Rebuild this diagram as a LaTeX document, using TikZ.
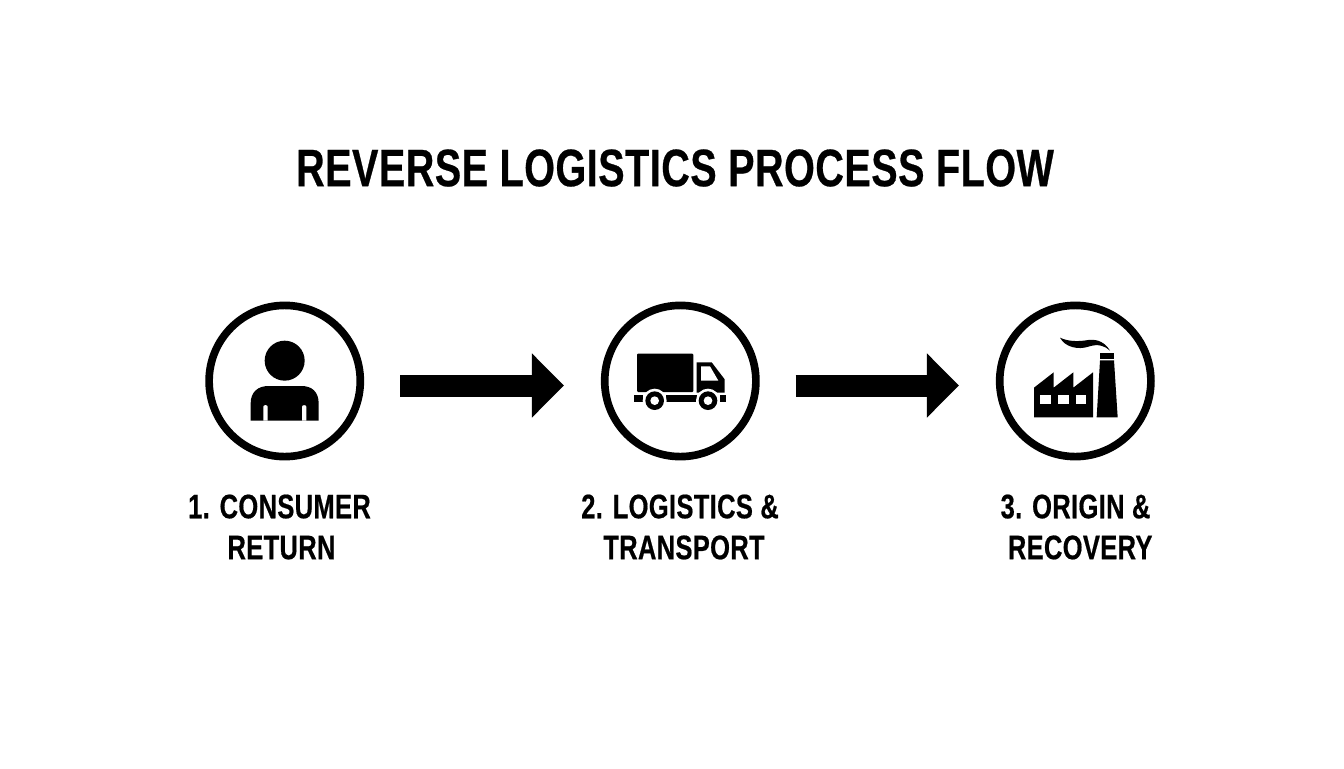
\documentclass[tikz,border=0pt]{standalone}
\usepackage{fontspec}
\setmainfont{Liberation Sans}
\usetikzlibrary{arrows.meta,calc}
\newfontfamily\condfont{Liberation Sans Bold}[FakeStretch=0.75,LetterSpace=1,FakeBold=0.5]
\tikzset{
  x=0.75pt,y=-0.75pt,
  ring/.style={circle,draw=black,line width=5.75pt,minimum size=113.4pt,inner sep=0pt,fill=white},
  flowarrow/.style={line width=16.5pt,black,-{Triangle[length=24pt,width=46.8pt]}},
  steptext/.style={font=\condfont\fontsize{25.5pt}{30.7pt}\selectfont,align=center,inner sep=0pt,text=black},
  titletext/.style={font=\condfont\fontsize{39.5pt}{44pt}\selectfont,inner sep=0pt,text=black},
  zoomed/.style={x=0.25pt,y=-0.25pt}
}
\begin{document}
\begin{tikzpicture}
\useasboundingbox (0,0) rectangle (1344,768);
\fill[white] (0,0) rectangle (1344,768);
\node[titletext] (title) at (675,168) {REVERSE LOGISTICS PROCESS FLOW};

\node[ring] (c1) at (284.7,381) {};
\node[ring] (c2) at (680.3,381) {};
\node[ring] (c3) at (1075.3,381) {};

\draw[flowarrow] ($(c1.east)+(36,4.5)$) -- ($(c2.west)+(-37,4.5)$);
\draw[flowarrow] ($(c2.east)+(36,4.5)$) -- ($(c3.west)+(-37,4.5)$);

\node[steptext] (l1) at (279.5,527) {1. CONSUMER\\\hspace*{3pt}RETURN};
\node[steptext] (l2) at (680,527) {2. LOGISTICS \&\\\hspace*{6pt}TRANSPORT};
\node[steptext] (l3) at (1075.5,527) {3. ORIGIN \&\\\hspace*{7pt}RECOVERY};

% person
\begin{scope}[shift={(190,290)},zoomed]
\fill (284,212) circle[radius=60];
\fill (182,392) -- (182,340) .. controls (182,305) and (205,288) .. (235,288)
  -- (335,288) .. controls (365,288) and (386,305) .. (386,340) -- (386,392) -- cycle;
\fill[white] (220,392) -- (220,350) .. controls (220,344) and (233,344) .. (233,350) -- (233,392) -- cycle;
\fill[white] (336,392) -- (336,350) .. controls (336,344) and (349,344) .. (349,350) -- (349,392) -- cycle;
\end{scope}

% truck
\begin{scope}[shift={(590,290)},zoomed]
\fill[rounded corners=0.75pt] (141,191) rectangle (310,306);
\fill (320,217) -- (365,217) -- (404,268) -- (404,308) -- (320,308) -- cycle;
\fill[white] (333,229) -- (360,229) -- (385,272) -- (333,272) -- cycle;
\fill (132,316) rectangle (160,337);
\fill (228,316) rectangle (322,337);
\fill (390,316) rectangle (407,337);
\foreach \wx in {194,354}{
  \fill[white] (\wx,332) circle[radius=36];
  \fill (\wx,332) circle[radius=28];
  \fill[white] (\wx,332) circle[radius=13];
}
\end{scope}

% factory
\begin{scope}[shift={(985,290)},zoomed]
\fill (147,293) -- (206,247) -- (206,293) -- (265,247) -- (265,293) -- (324,247) -- (324,382) -- (147,382) -- cycle;
\fill[white] (166,315) rectangle (198,343);
\fill[white] (220,315) rectangle (252,343);
\fill[white] (272,315) rectangle (304,343);
\fill (345,190) rectangle (387,207);
\fill (345,211) -- (387,211) -- (398,382) -- (335,382) -- cycle;
\fill (225,143) .. controls (240,172) and (280,180) .. (310,170)
  .. controls (340,160) and (360,168) .. (375,182)
  .. controls (362,160) and (340,146) .. (310,150)
  .. controls (280,155) and (250,155) .. (225,143) -- cycle;
\end{scope}
\end{tikzpicture}
\end{document}
